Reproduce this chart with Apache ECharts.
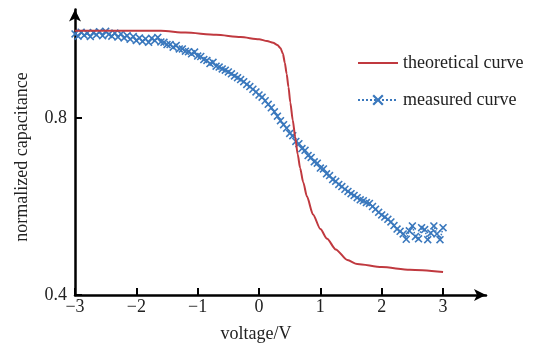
<!DOCTYPE html>
<html>
<head>
<meta charset="utf-8">
<script src="https://cdn.jsdelivr.net/npm/echarts@6/dist/echarts.min.js"></script>
<style>html,body{margin:0;padding:0;background:#fff}#c{width:541px;height:344px}</style>
</head>
<body>
<div id="c"></div>
<script>
// ---- data ----
const xTicks = [-3, -2, -1, 0, 1, 2, 3];
const yTicks = [0.4, 0.8];
const seriesNames = ['theoretical curve', 'measured curve'];

const theoX = [-3.0, -2.0, -1.6, -1.2, -0.7, -0.3, 0.0, 0.13, 0.23, 0.30, 0.35, 0.39, 0.42, 0.45, 0.48, 0.51, 0.55, 0.59, 0.63, 0.67, 0.72, 0.78, 0.88, 1.0, 1.11, 1.25, 1.44, 1.60, 2.0, 2.46, 3.0];
const theoY = [0.997, 0.997, 0.997, 0.993, 0.988, 0.983, 0.978, 0.974, 0.970, 0.965, 0.958, 0.945, 0.925, 0.900, 0.870, 0.835, 0.795, 0.757, 0.718, 0.687, 0.655, 0.623, 0.582, 0.549, 0.527, 0.503, 0.479, 0.470, 0.463, 0.457, 0.452];

const measStart = -3, measStep = 0.05;
const measY = [
  0.990, 0.985, 0.994, 0.987, 0.992, 0.984, 0.993, 0.988, 0.995, 0.986,
  0.996, 0.989, 0.985, 0.992, 0.983, 0.990, 0.981, 0.986, 0.978, 0.984,
  0.975, 0.981, 0.973, 0.979, 0.971, 0.980, 0.975, 0.982, 0.972, 0.971,
  0.966, 0.966, 0.960, 0.964, 0.956, 0.956, 0.951, 0.950, 0.945, 0.949,
  0.940, 0.939, 0.932, 0.930, 0.923, 0.926, 0.917, 0.915, 0.911, 0.908,
  0.904, 0.900, 0.895, 0.891, 0.887, 0.882, 0.876, 0.871, 0.865, 0.859,
  0.852, 0.847, 0.839, 0.831, 0.823, 0.814, 0.804, 0.794, 0.785, 0.777,
  0.765, 0.760, 0.747, 0.742, 0.731, 0.727, 0.715, 0.711, 0.701, 0.698,
  0.687, 0.685, 0.674, 0.670, 0.661, 0.657, 0.650, 0.645, 0.639, 0.634,
  0.629, 0.625, 0.620, 0.615, 0.613, 0.609, 0.607, 0.600, 0.594, 0.587,
  0.581, 0.576, 0.571, 0.565, 0.557, 0.549, 0.544, 0.538, 0.526, 0.545,
  0.556, 0.532, 0.527, 0.552, 0.548, 0.525, 0.540, 0.556, 0.538, 0.525,
  0.552
];

// ---- build ----
const theoData = theoX.map((x, i) => [x, theoY[i]]);
const measData = measY.map((y, i) => [+(measStart + i * measStep).toFixed(2), y]);

const FONT = 'Liberation Serif';
const TXT = '#222';
const RED = '#c0393f';
const BLUE = '#3a78bd';
const CROSS = 'path://M0,1.4L1.4,0L5,3.6L8.6,0L10,1.4L6.4,5L10,8.6L8.6,10L5,6.4L1.4,10L0,8.6L3.6,5Z';

const chart = echarts.init(document.getElementById('c'), null, {renderer: 'canvas'});
chart.setOption({
  animation: false,
  backgroundColor: '#fff',
  grid: {left: 75, right: 55, top: 9.6, bottom: 49, containLabel: false},
  legend: {
    orient: 'vertical',
    left: 352, top: 49,
    itemWidth: 40, itemHeight: 14, itemGap: 19,
    textStyle: {fontFamily: FONT, fontSize: 18, color: TXT, lineHeight: 18},
    data: [
      {name: seriesNames[0], itemStyle: {opacity: 0}},
      {name: seriesNames[1]}
    ]
  },
  xAxis: {
    type: 'value', min: -3, max: 3.7,
    axisLine: {show: true, onZero: false, symbol: ['none', 'arrow'], symbolSize: [9, 12], lineStyle: {color: '#000', width: 2.5}},
    axisTick: {show: true, inside: true, length: 7, lineStyle: {color: '#000', width: 2}, customValues: xTicks},
    axisLabel: {customValues: xTicks, margin: 3, fontFamily: FONT, fontSize: 18, color: TXT,
      formatter: v => String(v).replace('-', '\u2212')},
    splitLine: {show: false}
  },
  yAxis: {
    type: 'value', min: 0.4, max: 1.045,
    axisLine: {show: true, onZero: false, symbol: ['none', 'arrow'], symbolSize: [9, 12], lineStyle: {color: '#000', width: 2.5}},
    axisTick: {show: true, inside: true, length: 7, lineStyle: {color: '#000', width: 2}, customValues: yTicks},
    axisLabel: {customValues: yTicks, margin: 8, fontFamily: FONT, fontSize: 18, color: TXT,
      formatter: v => v.toFixed(1)},
    splitLine: {show: false}
  },
  graphic: [
    {type: 'text', x: 22, y: 157, rotation: Math.PI / 2,
      style: {text: 'normalized capacitance', fontFamily: FONT, fontSize: 18, fill: TXT, textAlign: 'center', textVerticalAlign: 'middle'}},
    {type: 'text', x: 256, y: 334,
      style: {text: 'voltage/V', fontFamily: FONT, fontSize: 18, fill: TXT, textAlign: 'center', textVerticalAlign: 'middle'}}
  ],
  series: [
    {
      name: seriesNames[0], type: 'line', data: theoData,
      smooth: 0.25, smoothMonotone: 'x', showSymbol: false, symbol: 'none',
      lineStyle: {color: RED, width: 2}, itemStyle: {color: RED}, z: 3
    },
    {
      name: seriesNames[1], type: 'line', data: measData,
      symbol: CROSS, symbolSize: 8, showSymbol: true,
      lineStyle: {color: BLUE, width: 1.5, type: 'dotted'},
      itemStyle: {color: BLUE}, z: 2
    }
  ]
});
</script>
</body>
</html>
